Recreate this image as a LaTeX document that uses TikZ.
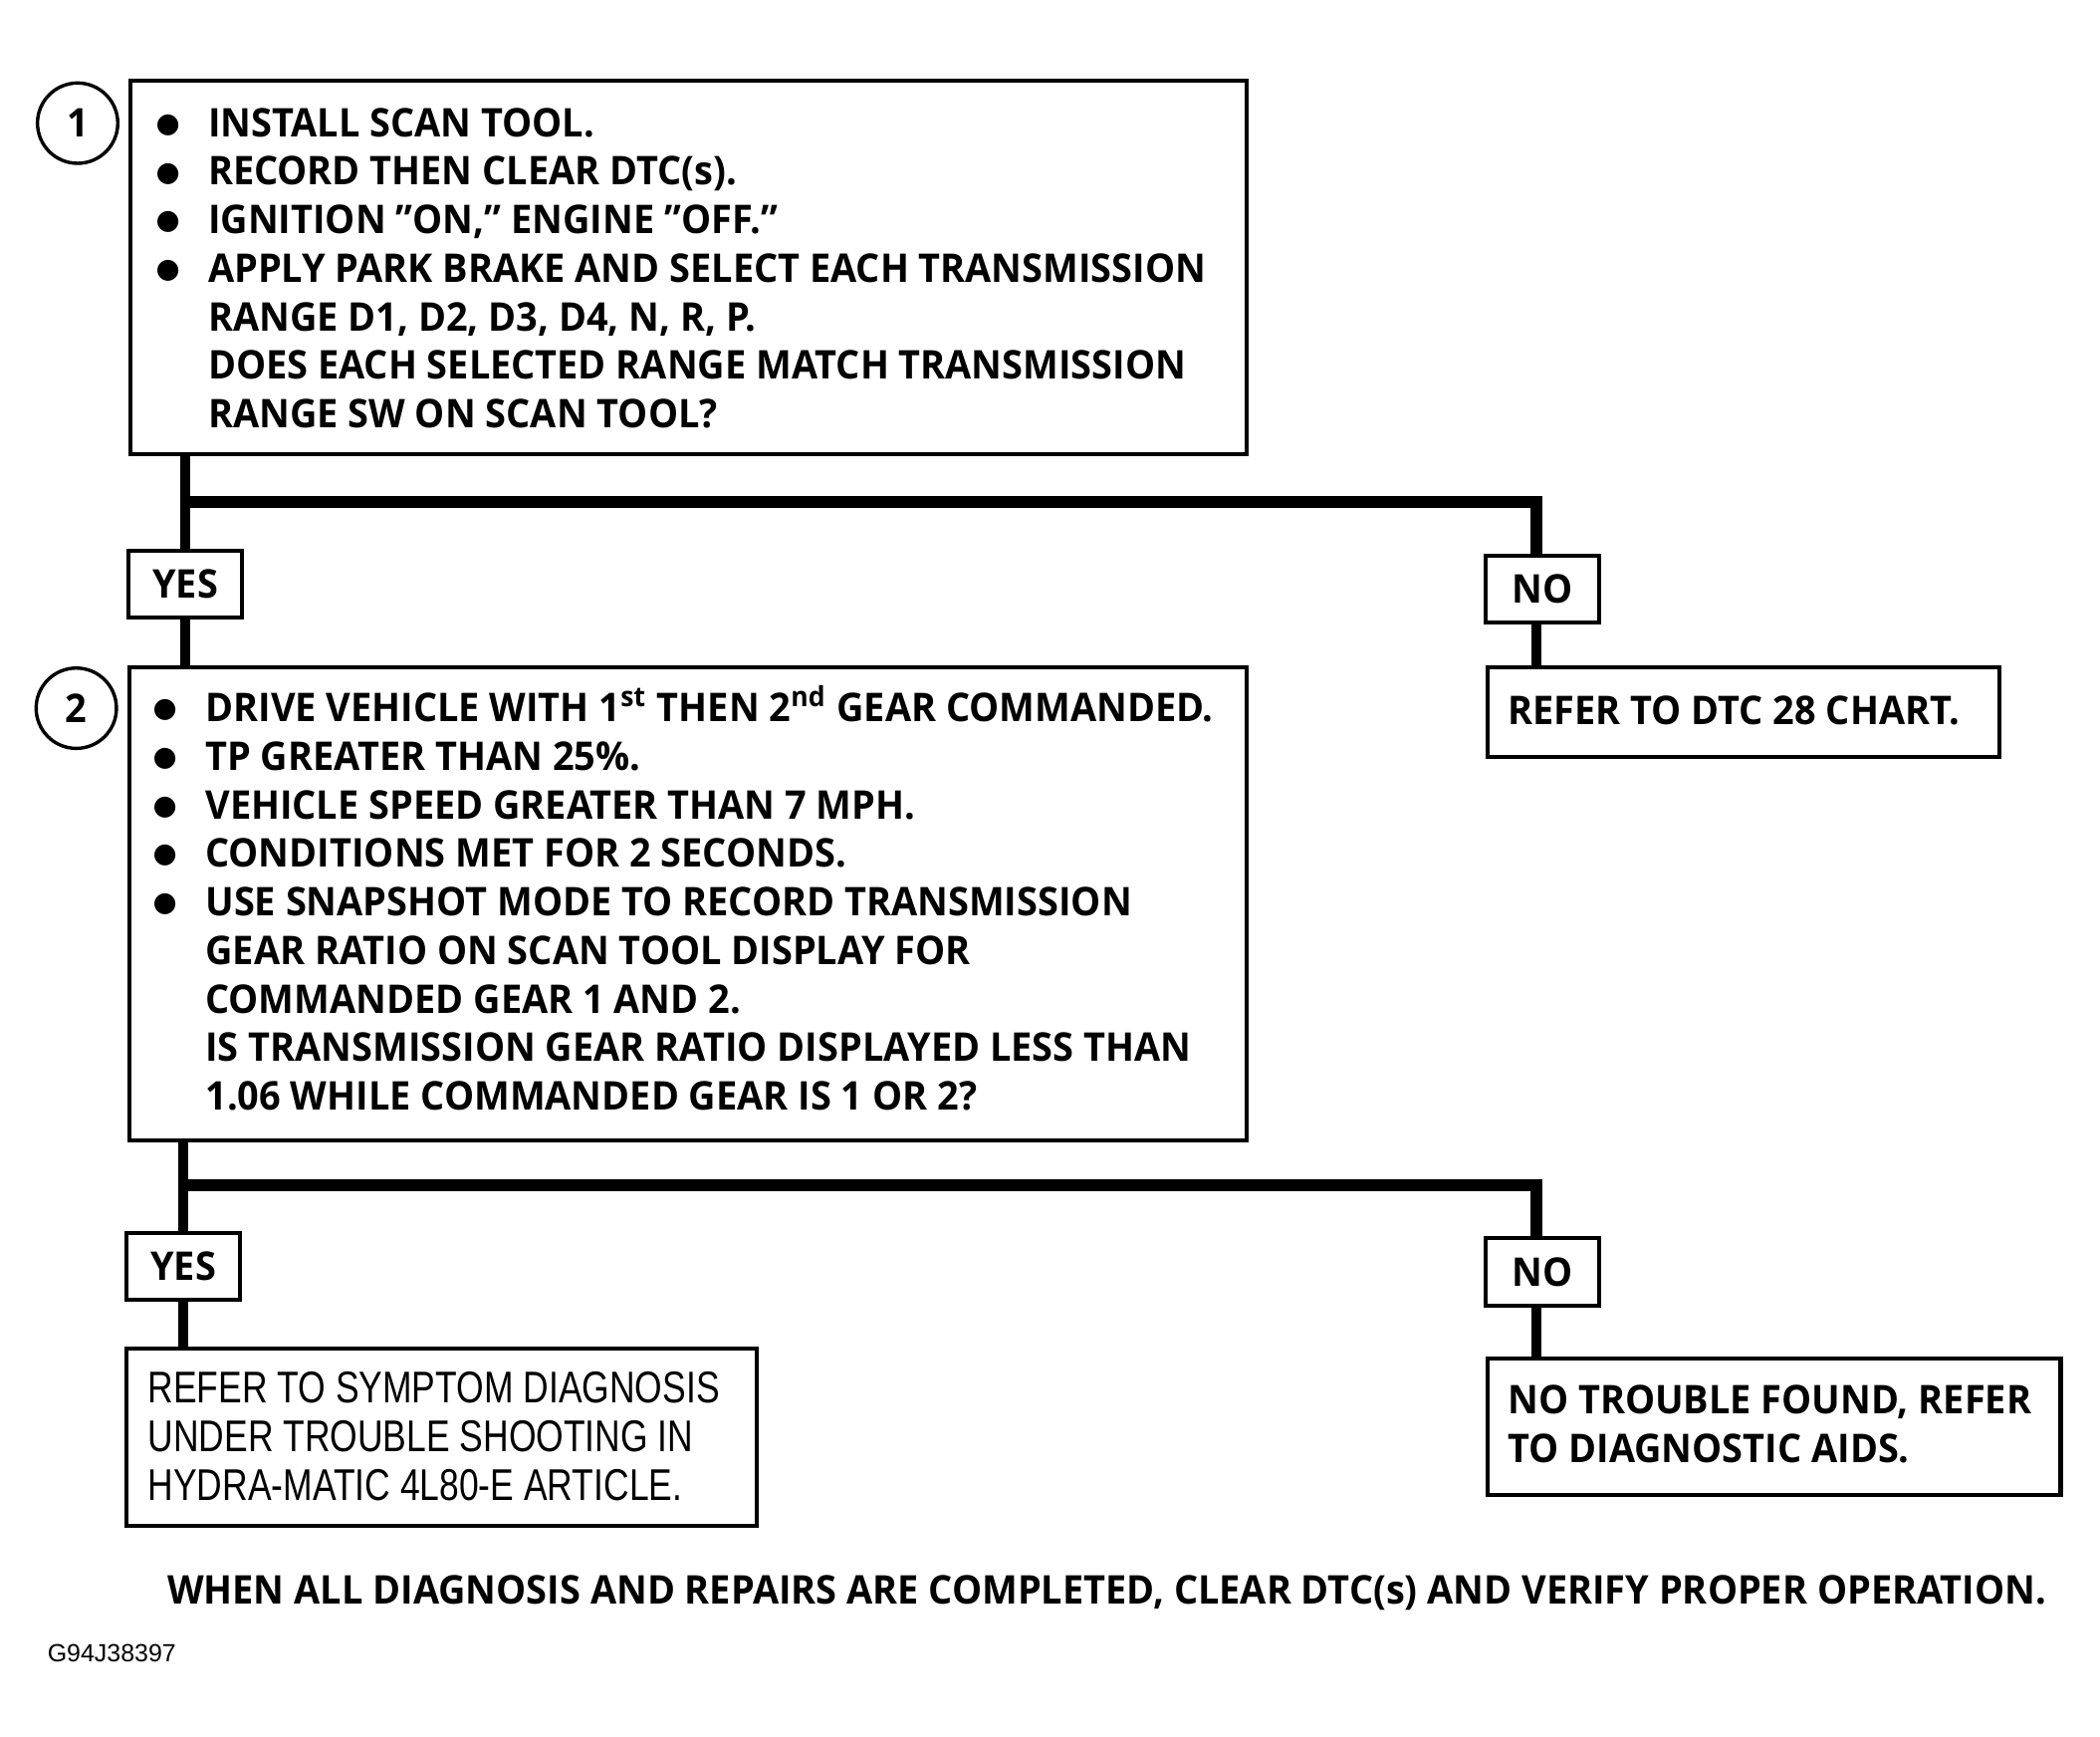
\documentclass[tikz,border=0pt]{standalone}
\usepackage{fontspec}
\setmainfont{Open Sans}[FakeStretch=0.955]
\newfontfamily\helv{Liberation Sans}[FakeStretch=0.795]
\newfontfamily\figfont{Liberation Sans}
\newlength\px \setlength\px{0.0125cm}
\newcommand\itm{\makebox[40\px][l]{\raisebox{-0.1ex}{\Large$\bullet$}}}
\newcommand\noitm{\hspace*{40\px}}
\begin{document}
\begin{tikzpicture}[x=0.0125cm,y=-0.0125cm,
  box/.style={draw,line width=1.1pt,inner sep=0pt,anchor=north west},
  ans/.style={draw,line width=1.1pt,inner sep=0pt,minimum width=85\px,minimum height=50\px,font=\bfseries\fontsize{10.5}{12.9}\selectfont},
  num/.style={draw,circle,line width=0.9pt,minimum size=60\px,inner sep=0pt,font=\bfseries\fontsize{10.5}{12.9}\selectfont},
  txt/.style={anchor=base west,inner sep=0pt,align=left,font=\bfseries\fontsize{10.5}{12.9}\selectfont},
  link/.style={line width=2.8pt},
  bar/.style={line width=3.2pt,line join=miter}]
\useasboundingbox (0,0) rectangle (1569,1297.4);
\node[box,minimum width=834\px,minimum height=279\px] (box1) at (96,59) {};
\node[num] (c1) at (58,92) {1};
\node[txt] (t1) at (115,102) {\begin{tabular}[t]{@{}l@{}}
\itm INSTALL SCAN TOOL.\\
\itm RECORD THEN CLEAR DTC(s).\\
\itm IGNITION "ON," ENGINE "OFF."\\
\itm APPLY PARK BRAKE AND SELECT EACH TRANSMISSION\\
\noitm RANGE D1, D2, D3, D4, N, R, P.\\
\noitm DOES EACH SELECTED RANGE MATCH TRANSMISSION\\
\noitm RANGE SW ON SCAN TOOL?
\end{tabular}};
\node[ans] (yes1) at (138.5,436.5) {YES};
\node[ans] (no1) at (1152.5,440) {NO};
\node[box,minimum width=382\px,minimum height=67\px] (ref1) at (1110,497) {};
\node[txt] (tr1) at (1126,541) {REFER TO DTC 28 CHART.};
\node[box,minimum width=835\px,minimum height=353\px] (box2) at (95,497) {};
\node[num] (c2) at (57,529) {2};
\node[txt] (t2) at (113,539) {\begin{tabular}[t]{@{}l@{}}
\itm DRIVE VEHICLE WITH 1\textsuperscript{st} THEN 2\textsuperscript{nd} GEAR COMMANDED.\\
\itm TP GREATER THAN 25\%.\\
\itm VEHICLE SPEED GREATER THAN 7 MPH.\\
\itm CONDITIONS MET FOR 2 SECONDS.\\
\itm USE SNAPSHOT MODE TO RECORD TRANSMISSION\\
\noitm GEAR RATIO ON SCAN TOOL DISPLAY FOR\\
\noitm COMMANDED GEAR 1 AND 2.\\
\noitm IS TRANSMISSION GEAR RATIO DISPLAYED LESS THAN\\
\noitm 1.06 WHILE COMMANDED GEAR IS 1 OR 2?
\end{tabular}};
\node[ans] (yes2) at (137,946) {YES};
\node[ans] (no2) at (1152.5,950) {NO};
\node[box,minimum width=471\px,minimum height=132\px] (ref2) at (93,1006) {};
\node[txt,font=\helv\fontsize{11.8}{12.9}\selectfont] (tr2) at (110,1048) {\begin{tabular}[t]{@{}l@{}}
REFER TO SYMPTOM DIAGNOSIS\\
UNDER TROUBLE SHOOTING IN\\
HYDRA-MATIC 4L80-E ARTICLE.
\end{tabular}};
\node[box,minimum width=428\px,minimum height=102\px] (ref3) at (1110,1013) {};
\node[txt] (tr3) at (1126,1056) {\begin{tabular}[t]{@{}l@{}}
NO TROUBLE FOUND, REFER\\
TO DIAGNOSTIC AIDS.
\end{tabular}};
\node[txt,anchor=base] (foot) at (827,1198) {WHEN ALL DIAGNOSIS AND REPAIRS ARE COMPLETED, CLEAR DTC(s) AND VERIFY PROPER OPERATION.};
\node[anchor=base west,inner sep=0pt,font=\figfont\fontsize{6.6}{8}\selectfont] (fig) at (35,1241) {G94J38397};
\coordinate (k1) at (1148,375);
\coordinate (k2) at (1148,885);
\draw[link] (box1.south -| yes1) -- (yes1.north);
\draw[link] (yes1.south) -- (box2.north -| yes1);
\draw[bar] (yes1 |- k1) -- (k1) -- (k1 |- no1.north);
\draw[link] (k1 |- no1.south) -- (k1 |- ref1.north);
\draw[link] (box2.south -| yes2) -- (yes2.north);
\draw[link] (yes2.south) -- (ref2.north -| yes2);
\draw[bar] (yes2 |- k2) -- (k2) -- (k2 |- no2.north);
\draw[link] (k2 |- no2.south) -- (k2 |- ref3.north);
\end{tikzpicture}
\end{document}
